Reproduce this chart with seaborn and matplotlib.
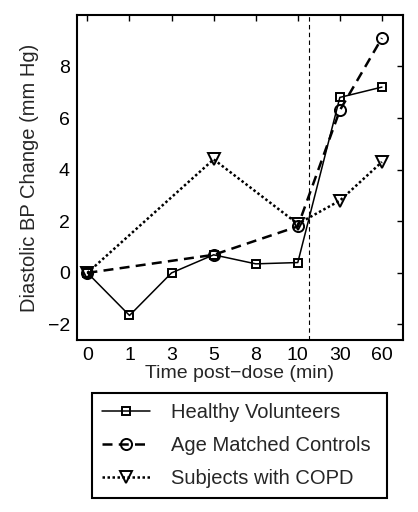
import numpy as np
import pandas as pd
import matplotlib
matplotlib.use("Agg")
import matplotlib.pyplot as plt
import seaborn as sns

# data
time_labels = ["0", "1", "3", "5", "8", "10", "30", "60"]
healthy = [0, -1.65, 0, 0.7, 0.35, 0.4, 6.8, 7.2]
age_matched = [0, np.nan, np.nan, 0.7, np.nan, 1.8, 6.3, 9.1]
copd = [0, np.nan, np.nan, 4.4, np.nan, 1.9, 2.8, 4.3]
series_names = ["Healthy Volunteers", "Age Matched Controls", "Subjects with COPD"]

sns.set_style("white")
plt.rcParams["font.family"] = ["Liberation Sans", "DejaVu Sans"]

idx = np.arange(len(time_labels))
df = pd.DataFrame({"pos": idx, "healthy": healthy, "age": age_matched, "copd": copd})

fig = plt.figure(figsize=(4.18, 5.12), dpi=100)
ax = fig.add_axes([0.184, 0.336, 0.78, 0.635])

# col, label, linestyle, linewidth, marker, markersize
styles = [
    ("healthy", series_names[0], "-", 1.1, "s", 6),
    ("age", series_names[1], (0, (4, 2.5)), 1.8, "o", 8),
    ("copd", series_names[2], (0, (1, 1)), 1.8, "v", 8.5),
]
for col, name, ls, lw, mk, ms in styles:
    sub = df.dropna(subset=[col])
    sns.lineplot(data=sub, x="pos", y=col, ax=ax, color="black",
                 linewidth=lw, linestyle=ls,
                 marker=mk, markersize=ms, markerfacecolor="none",
                 markeredgecolor="black", markeredgewidth=1.4, label=name)

ax.axvline(5.26, color="black", linestyle=(0, (4, 3)), linewidth=0.8)

ax.set_xlim(-0.25, 7.5)
ax.set_ylim(-2.6, 10)
ax.set_xticks(idx)
ax.set_xticklabels(time_labels)
ax.set_yticks([-2, 0, 2, 4, 6, 8])
ax.set_yticklabels(["\u22122", "0", "2", "4", "6", "8"])
ax.tick_params(direction="in", length=4, width=1, labelsize=14,
               top=True, right=True, pad=5, colors="black")
for sp in ax.spines.values():
    sp.set_visible(True)
    sp.set_color("black")
    sp.set_linewidth(1.5)
ax.set_xlabel("Time post\u2212dose (min)", fontsize=14, labelpad=1)
ax.set_ylabel("Diastolic BP Change (mm Hg)", fontsize=14.5, labelpad=6)

# legend box spans the lower part of the figure
leg = ax.legend(loc="upper left", bbox_to_anchor=(0.22, 0.0332, 0.706, 0.199),
                bbox_transform=fig.transFigure, mode="expand", fontsize=14.5,
                frameon=True, fancybox=False, framealpha=1,
                handlelength=2.4, handletextpad=1.0, borderpad=0.5,
                labelspacing=0.7, borderaxespad=0)
leg.get_frame().set_edgecolor("black")
leg.get_frame().set_linewidth(1.5)

fig.savefig("out.png", dpi=100)
